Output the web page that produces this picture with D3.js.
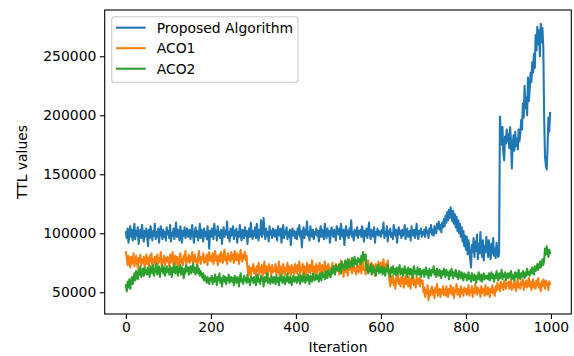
<!DOCTYPE html>
<html>
<head>
<meta charset="utf-8">
<script src="https://cdn.jsdelivr.net/npm/d3@7"></script>
<style>
  html, body { margin: 0; padding: 0; background: #fff; }
  svg { display: block; font-family: "DejaVu Sans", sans-serif; }
</style>
</head>
<body>
<svg id="chart" width="574" height="356"></svg>
<script>
// Iteration index for each sample (every 2nd iteration)
const iterations = d3.range(0, 1000, 2);

// TTL values, in thousands (25 samples per 50 iterations)
const proposed = [
  101, 96, 104, 92, 99, 106, 97, 103, 94, 100, 108, 95, 102, 98, 105, 91, 100, 103, 96, 107, 99, 93, 102, 97, 104,
  98, 89, 103, 96, 106, 100, 94, 102, 98, 108, 95, 101, 97, 104, 92, 100, 106, 99, 95, 103, 97, 101, 94, 105, 99,
  102, 96, 107, 93, 100, 98, 104, 95, 101, 109, 97, 103, 99, 94, 106, 100, 92, 102, 98, 105, 96, 101, 104, 97, 99,
  103, 95, 100, 107, 98, 92, 101, 105, 97, 102, 94, 99, 108, 96, 103, 100, 93, 104, 98, 101, 95, 106, 99, 87, 102,
  97, 104, 100, 95, 108, 99, 102, 94, 106, 98, 101, 96, 103, 91, 100, 105, 97, 102, 99, 110, 96, 101, 93, 104, 98,
  100, 106, 95, 102, 98, 104, 92, 101, 97, 107, 99, 94, 103, 100, 96, 105, 98, 102, 91, 100, 104, 97, 109, 99, 95,
  102, 98, 105, 96, 108, 100, 94, 103, 99, 111, 97, 102, 113, 100, 95, 104, 98, 101, 93, 106, 99, 102, 96, 104, 100,
  97, 103, 99, 94, 106, 101, 98, 104, 92, 100, 107, 96, 102, 99, 105, 95, 101, 97, 103, 90, 100, 104, 98, 102, 96,
  101, 95, 104, 99, 107, 97, 102, 88, 100, 105, 96, 103, 99, 110, 98, 101, 94, 106, 100, 97, 103, 95, 101, 99, 104,
  98, 102, 93, 100, 106, 97, 103, 99, 95, 108, 101, 96, 104, 98, 102, 92, 100, 105, 99, 97, 103, 100, 94, 106, 101,
  99, 104, 95, 108, 101, 97, 103, 90, 100, 106, 98, 102, 96, 104, 99, 111, 97, 101, 94, 103, 100, 98, 105, 96, 102,
  99, 103, 97, 106, 100, 93, 102, 98, 104, 96, 101, 109, 99, 95, 103, 100, 97, 105, 92, 101, 99, 104, 98, 102, 100,
  97, 103, 100, 109, 96, 101, 98, 106, 93, 102, 99, 104, 97, 100, 95, 107, 101, 98, 103, 92, 100, 105, 99, 102, 96,
  103, 98, 100, 107, 95, 101, 104, 97, 99, 102, 94, 106, 100, 98, 103, 96, 101, 108, 99, 95, 102, 100, 104, 97, 101,
  99, 103, 97, 105, 100, 102, 96, 104, 101, 107, 99, 103, 98, 106, 102, 100, 108, 104, 110, 103, 107, 101, 109, 105, 112,
  106, 115, 109, 118, 111, 120, 113, 122, 116, 110, 119, 108, 116, 105, 114, 102, 111, 100, 108, 97, 105, 93, 102, 89, 98,
  86, 97, 82, 94, 88, 78, 71, 90, 84, 96, 80, 93, 85, 99, 78, 91, 83, 101, 87, 80, 94, 77, 89, 84, 97,
  89, 80, 94, 85, 78, 91, 83, 96, 81, 87, 79, 92, 84, 80, 82, 199, 186, 175, 190, 168, 162, 182, 176, 188, 178,
  184, 172, 190, 178, 155, 175, 183, 170, 186, 174, 180, 171, 188, 178, 185, 196, 188, 210, 198, 225, 206, 215, 200, 232, 212,
  222, 236, 228, 245, 236, 252, 240, 268, 255, 275, 260, 272, 250, 277.5, 262, 274, 258, 200, 165, 158, 154, 172, 198, 186, 202
];

const aco1 = [
  84, 79, 73, 81, 76, 71, 80, 74, 78, 83, 72, 77, 81, 75, 70, 79, 76, 82, 73, 78, 75, 80, 71, 77, 82,
  74, 79, 72, 81, 76, 83, 73, 78, 75, 80, 71, 77, 82, 74, 79, 76, 84, 72, 78, 75, 81, 73, 79, 76, 80,
  77, 72, 82, 75, 79, 84, 73, 78, 81, 74, 80, 76, 71, 79, 83, 75, 78, 73, 81, 77, 85, 74, 79, 76, 82,
  75, 80, 77, 84, 73, 79, 82, 76, 78, 72, 81, 85, 77, 74, 80, 78, 83, 75, 79, 76, 82, 73, 80, 84, 77,
  80, 76, 83, 74, 79, 85, 77, 81, 73, 78, 82, 76, 84, 79, 75, 81, 86, 77, 80, 74, 83, 78, 81, 76, 84,
  78, 82, 75, 85, 79, 77, 83, 80, 74, 81, 86, 78, 76, 82, 79, 84, 77, 81, 70, 65, 72, 67, 63, 71, 68,
  74, 66, 70, 63, 72, 68, 75, 65, 71, 67, 73, 64, 70, 76, 66, 72, 69, 63, 74, 68, 71, 65, 73, 67, 70,
  68, 74, 65, 71, 67, 76, 63, 70, 72, 66, 74, 69, 64, 71, 68, 75, 66, 72, 70, 64, 73, 67, 71, 65, 74,
  70, 66, 73, 68, 76, 64, 71, 69, 74, 65, 72, 68, 63, 75, 70, 67, 73, 66, 71, 77, 68, 72, 65, 70, 74,
  66, 72, 69, 75, 64, 70, 73, 67, 71, 76, 65, 72, 68, 74, 70, 63, 71, 67, 75, 69, 72, 66, 74, 70, 68,
  73, 65, 71, 77, 68, 74, 63, 70, 72, 67, 76, 64, 71, 78, 69, 73, 66, 72, 75, 68, 70, 65, 74, 71, 67,
  72, 76, 66, 73, 79, 69, 71, 65, 74, 70, 77, 67, 72, 69, 75, 66, 73, 70, 64, 74, 71, 68, 76, 69, 72,
  75, 68, 73, 78, 70, 66, 74, 71, 77, 69, 61, 55, 63, 58, 64, 56, 60, 53, 62, 59, 65, 57, 61, 55, 63,
  58, 62, 54, 60, 64, 57, 61, 55, 63, 59, 53, 62, 58, 65, 56, 60, 54, 63, 59, 57, 62, 55, 61, 58, 60,
  50, 54, 46, 52, 49, 56, 43.3, 51, 47, 53, 55, 48, 52, 45, 54, 50, 57, 47, 51, 53, 46, 52, 49, 55, 48,
  52, 47, 55, 50, 46, 53, 49, 56, 51, 48, 54, 45, 52, 50, 57, 48, 53, 51, 46, 55, 49, 52, 47, 54, 50,
  53, 48, 51, 56, 47, 52, 50, 55, 46, 53, 49, 57, 51, 48, 54, 50, 52, 46, 55, 49, 53, 51, 47, 56, 50,
  48, 54, 51, 46, 53, 50, 56, 49, 52, 47, 55, 51, 58, 53, 56, 51, 59, 54, 57, 52, 60, 55, 53, 58, 56,
  59, 53, 57, 61, 52, 56, 54, 60, 55, 51, 58, 62, 54, 57, 53, 59, 56, 61, 52, 58, 55, 60, 54, 57, 62,
  55, 59, 52, 57, 61, 54, 58, 53, 60, 56, 62, 54, 57, 51, 59, 55, 61, 57, 53, 60, 56, 58, 52, 59, 57
];

const aco2 = [
  56, 51, 59, 54, 61, 53, 58, 63, 57, 62, 66, 60, 68, 64, 61, 69, 65, 72, 63, 67, 70, 64, 71, 66, 69,
  65, 71, 67, 63, 72, 68, 66, 73, 64, 70, 67, 74, 65, 69, 72, 63, 70, 68, 73, 66, 71, 64, 69, 72, 67,
  70, 65, 72, 68, 63, 71, 67, 74, 66, 69, 72, 64, 70, 67, 73, 65, 71, 68, 62, 70, 66, 73, 68, 71, 65,
  69, 72, 66, 70, 74, 67, 71, 65, 69, 73, 66, 70, 64, 68, 65, 62, 66, 60, 64, 61, 58, 63, 60, 57, 62,
  60, 64, 57, 62, 59, 65, 61, 56, 63, 60, 66, 58, 62, 55, 61, 64, 59, 63, 57, 62, 60, 65, 58, 61, 63,
  59, 62, 56, 64, 60, 58, 63, 61, 55, 62, 66, 59, 61, 57, 64, 60, 62, 58, 65, 59, 61, 56, 63, 60, 62,
  58, 63, 60, 56, 62, 65, 59, 61, 57, 64, 60, 62, 55, 63, 59, 61, 66, 58, 62, 60, 57, 64, 61, 58, 63,
  61, 57, 64, 59, 62, 56, 63, 60, 65, 58, 61, 63, 57, 62, 59, 66, 60, 58, 63, 61, 56, 62, 64, 59, 61,
  63, 58, 61, 65, 60, 57, 64, 62, 59, 66, 61, 58, 63, 60, 65, 62, 57, 64, 61, 59, 66, 63, 60, 62, 65,
  61, 64, 59, 66, 62, 60, 67, 63, 65, 61, 68, 64, 62, 69, 65, 67, 63, 70, 66, 72, 68, 65, 73, 69, 71,
  68, 74, 70, 66, 76, 71, 73, 69, 77, 72, 70, 78, 74, 71, 76, 73, 79, 72, 75, 80, 74, 77, 73, 79, 76,
  78, 74, 81, 76, 84, 79, 77, 82, 69, 73, 66, 71, 68, 74, 65, 70, 72, 67, 69, 64, 71, 68, 73, 66, 70,
  67, 72, 65, 69, 71, 64, 70, 68, 73, 66, 69, 63, 71, 67, 72, 65, 68, 70, 64, 71, 66, 69, 73, 65, 68,
  70, 64, 68, 72, 66, 69, 63, 71, 67, 65, 70, 68, 62, 69, 72, 66, 68, 64, 71, 67, 65, 70, 63, 68, 66,
  69, 63, 67, 71, 65, 68, 62, 70, 66, 64, 69, 67, 72, 65, 68, 63, 70, 66, 64, 69, 67, 62, 68, 65, 70,
  66, 63, 69, 65, 67, 61, 68, 64, 70, 66, 62, 67, 64, 69, 63, 66, 61, 68, 65, 62, 67, 64, 60, 66, 63,
  65, 60, 63, 67, 61, 64, 59, 66, 62, 60, 65, 63, 58, 64, 61, 67, 62, 60, 65, 59, 63, 66, 61, 64, 62,
  64, 61, 66, 60, 63, 67, 62, 65, 59, 64, 62, 68, 63, 60, 66, 62, 64, 69, 61, 65, 63, 67, 60, 64, 66,
  62, 66, 63, 68, 61, 65, 64, 60, 67, 63, 66, 62, 69, 64, 61, 66, 63, 68, 65, 62, 67, 64, 70, 65, 67,
  64, 69, 66, 71, 67, 65, 72, 68, 70, 74, 69, 72, 76, 71, 74, 78, 73, 77, 87, 82, 89, 84, 80, 86, 83
];

const seriesNames = ["Proposed Algorithm", "ACO1", "ACO2"];
const seriesColors = ["#1f77b4", "#ff7f0e", "#2ca02c"];
const xTicks = [0, 200, 400, 600, 800, 1000];
const yTicks = [50000, 100000, 150000, 200000, 250000];

const series = [proposed, aco1, aco2].map((vals, si) => ({
  name: seriesNames[si],
  color: seriesColors[si],
  points: vals.map((v, i) => ({ x: iterations[i], y: v * 1000 }))
}));

const svg = d3.select("#chart");
const plotL = 104.7, plotR = 571.3, plotT = 10, plotB = 314;
const fontSize = 13.9;

// matplotlib-style 5% margins
const xMin = d3.min(iterations), xMax = d3.max(iterations);
const xPad = (xMax - xMin) * 0.05;
const allY = series.flatMap(s => s.points.map(p => p.y));
const yMin = d3.min(allY), yMax = d3.max(allY);
const yPad = (yMax - yMin) * 0.05;

const x = d3.scaleLinear().domain([xMin - xPad, xMax + xPad]).range([plotL, plotR]);
const y = d3.scaleLinear().domain([yMin - yPad, yMax + yPad]).range([plotB, plotT]);

// lines
const line = d3.line().x(d => x(d.x)).y(d => y(d.y));
svg.append("g").selectAll("path").data(series).join("path")
  .attr("d", d => line(d.points))
  .attr("fill", "none")
  .attr("stroke", d => d.color)
  .attr("stroke-width", 2.08)
  .attr("stroke-linejoin", "round")
  .attr("stroke-linecap", "square");

// axes
const xAxis = d3.axisBottom(x).tickValues(xTicks).tickFormat(d3.format("d"))
  .tickSizeInner(4.9).tickSizeOuter(0).tickPadding(3.5);
const yAxis = d3.axisLeft(y).tickValues(yTicks).tickFormat(d3.format("d"))
  .tickSizeInner(4.9).tickSizeOuter(0).tickPadding(3.5);

const gx = svg.append("g").attr("transform", `translate(0,${plotB})`).call(xAxis);
const gy = svg.append("g").attr("transform", `translate(${plotL},0)`).call(yAxis);
[gx, gy].forEach(g => {
  g.select(".domain").remove();
  g.selectAll(".tick line").attr("stroke", "#000").attr("stroke-width", 1.1);
  g.selectAll(".tick text").attr("fill", "#000")
    .style("font-size", fontSize + "px").style("font-family", "DejaVu Sans, sans-serif");
});

// spines
svg.append("rect")
  .attr("x", plotL).attr("y", plotT)
  .attr("width", plotR - plotL).attr("height", plotB - plotT)
  .attr("fill", "none").attr("stroke", "#000").attr("stroke-width", 1.1);

// axis labels
svg.append("text")
  .attr("x", (plotL + plotR) / 2).attr("y", 352)
  .attr("text-anchor", "middle")
  .style("font-size", fontSize + "px")
  .text("Iteration");

svg.append("text")
  .attr("transform", `translate(27,${(plotT + plotB) / 2}) rotate(-90)`)
  .attr("text-anchor", "middle")
  .style("font-size", fontSize + "px")
  .text("TTL values");

// legend
const lg = svg.append("g");
lg.append("rect")
  .attr("x", 111.7).attr("y", 16.7)
  .attr("width", 186.3).attr("height", 65.6)
  .attr("rx", 2.8).attr("ry", 2.8)
  .attr("fill", "#fff").attr("fill-opacity", 0.8)
  .attr("stroke", "#cccccc").attr("stroke-width", 1.1);
const rows = lg.selectAll("g.row").data(series).join("g")
  .attr("class", "row")
  .attr("transform", (d, i) => `translate(0,${27.7 + i * 20.5})`);
rows.append("line")
  .attr("x1", 116).attr("x2", 145.7).attr("y1", 0).attr("y2", 0)
  .attr("stroke", d => d.color).attr("stroke-width", 2.08);
rows.append("text")
  .attr("x", 156.7).attr("y", 0).attr("dy", "0.36em")
  .style("font-size", fontSize + "px")
  .text(d => d.name);
</script>
</body>
</html>
